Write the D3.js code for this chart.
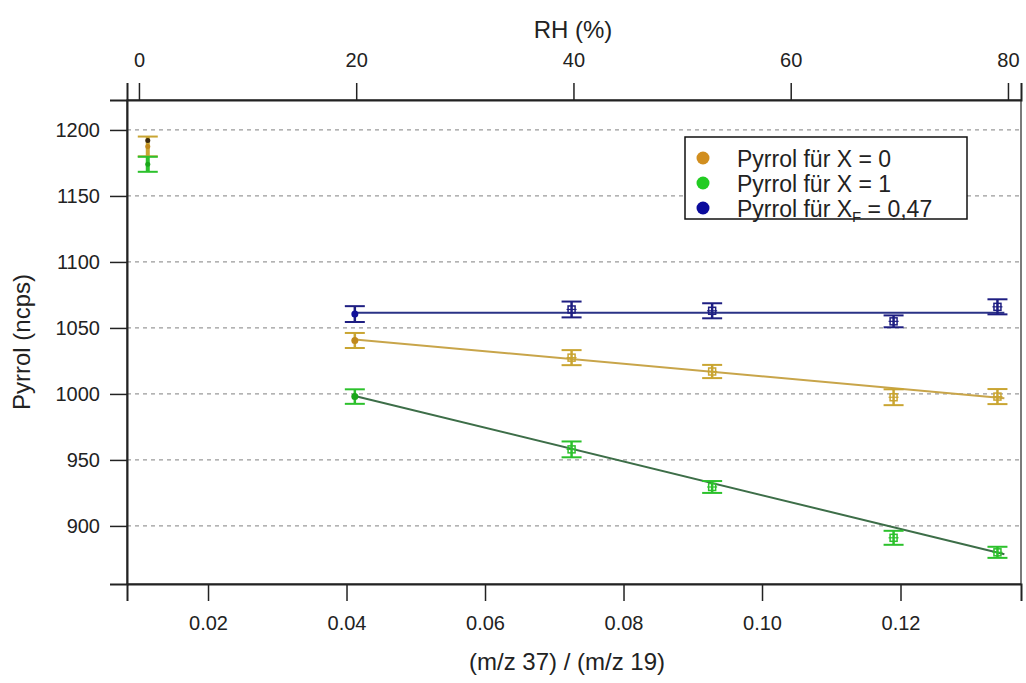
<!DOCTYPE html>
<html>
<head>
<meta charset="utf-8">
<script src="https://cdn.jsdelivr.net/npm/d3@7"></script>
<style>
  html, body { margin: 0; padding: 0; background: #fff; }
  svg { display: block; font-family: "Liberation Sans", Arial, sans-serif; }
</style>
</head>
<body>
<svg id="chart" width="1026" height="683"></svg>
<script>
// Measured ratio (m/z 37)/(m/z 19) for each humidity step
const ratio = [0.0113, 0.0412, 0.0725, 0.0928, 0.1190, 0.1340];

// Pyrrol signal (ncps) and uncertainties per series
const pyrrolX0 = [1187.5, 1040.5, 1027.5, 1017, 997.5, 998];
const pyrrolX0Err = [7.5, 5.7, 5.7, 5, 6, 5.7];
const pyrrolX1 = [1174, 998, 958, 929.5, 891, 880];
const pyrrolX1Err = [5.7, 5.5, 6, 4.5, 5.3, 4.2];
const pyrrolXF = [1192, 1060.5, 1064, 1063, 1055, 1066];
const pyrrolXFErr = [1, 6, 6, 5.7, 4.5, 5.7];

// Linear fits over the humidified points (start / end)
const fitRatio = [0.0412, 0.1350];
const fitX0 = [1041.3, 996.8];
const fitX1 = [998.5, 878.5];
const fitXF = [1061.5, 1061.5];

// Axis ticks
const bottomTicks = [0.02, 0.04, 0.06, 0.08, 0.10, 0.12];
const topTicks = [0, 20, 40, 60, 80];
const leftTicks = [900, 950, 1000, 1050, 1100, 1150, 1200];

const legendLabels = ["Pyrrol für X = 0", "Pyrrol für X = 1", "Pyrrol für X"];

const svg = d3.select("#chart");
const L = 127, R = 1021, T = 100, B = 584;

const x = d3.scaleLinear().domain([0.0083, 0.1374]).range([L, R]);
const xTop = d3.scaleLinear().domain([-1.1, 81.2]).range([L, R]);
const y = d3.scaleLinear().domain([856, 1222.7]).range([B, T]);

// dashed horizontal grid
svg.append("g").selectAll("line").data(leftTicks).join("line")
  .attr("x1", L).attr("x2", R)
  .attr("y1", d => y(d)).attr("y2", d => y(d))
  .attr("stroke", "#9a9a9a").attr("stroke-width", 1.2)
  .attr("stroke-dasharray", "4,4");

// frame
svg.append("rect").attr("x", L).attr("y", T).attr("width", R - L).attr("height", B - T)
  .attr("fill", "none").attr("stroke", "#222").attr("stroke-width", 1.2);

// axes
const tickFont = 20;
const gB = svg.append("g").attr("transform", `translate(0,${B})`)
  .call(d3.axisBottom(x).tickValues(bottomTicks).tickFormat(d3.format(".2f")).tickSize(17).tickPadding(15));
const gT = svg.append("g").attr("transform", `translate(0,${T})`)
  .call(d3.axisTop(xTop).tickValues(topTicks).tickFormat(d3.format("d")).tickSize(17).tickPadding(16));
const gL = svg.append("g").attr("transform", `translate(${L},0)`)
  .call(d3.axisLeft(y).tickValues(leftTicks).tickFormat(d3.format("d")).tickSize(17).tickPadding(10));
[gB, gT, gL].forEach(g => {
  g.select(".domain").attr("stroke", "#222").attr("stroke-width", 2);
  g.selectAll(".tick line").attr("stroke", "#222").attr("stroke-width", 1.5);
  g.selectAll(".tick text").attr("fill", "#222").style("font-size", tickFont + "px")
    .style("font-family", "'Liberation Sans', Arial, sans-serif");
});

// axis titles
svg.append("text").attr("x", 567).attr("y", 670).attr("text-anchor", "middle")
  .style("font-size", "24px").attr("fill", "#222").text("(m/z 37) / (m/z 19)");
svg.append("text").attr("x", 573).attr("y", 38).attr("text-anchor", "middle")
  .style("font-size", "24px").attr("fill", "#222").text("RH (%)");
svg.append("text").attr("transform", "translate(30,342) rotate(-90)").attr("text-anchor", "middle")
  .style("font-size", "24px").attr("fill", "#222").text("Pyrrol (ncps)");

const series = [
  { v: pyrrolX0, e: pyrrolX0Err, fit: fitX0, bar: "#c9a532", mark: "#c0891c", line: "#c8a54a", legend: "#d18e1f" },
  { v: pyrrolX1, e: pyrrolX1Err, fit: fitX1, bar: "#2cc12c", mark: "#1aa61a", line: "#3d6e48", legend: "#22cc22" },
  { v: pyrrolXF, e: pyrrolXFErr, fit: fitXF, bar: "#1e1e82", mark: "#10109a", line: "#2a3286", legend: "#0b0b9c" }
];

const lineGen = d3.line().x(d => x(d[0])).y(d => y(d[1]));

// fit lines
series.forEach(s => {
  svg.append("path").datum(fitRatio.map((r, i) => [r, s.fit[i]]))
    .attr("d", lineGen).attr("fill", "none").attr("stroke", s.line).attr("stroke-width", 2);
});

// error bars and markers
const cap = 10;
series.forEach((s, si) => {
  const g = svg.append("g");
  const pts = ratio.map((r, i) => ({ r, v: s.v[i], e: s.e[i], i }));
  pts.forEach(p => {
    const cx = x(p.r);
    const plain = si === 2 && p.i === 0;
    if (!plain) {
      g.append("line").attr("x1", cx).attr("x2", cx).attr("y1", y(p.v + p.e)).attr("y2", y(p.v - p.e))
        .attr("stroke", s.bar).attr("stroke-width", p.i === 0 ? 4 : 2.5);
      [p.v + p.e, p.v - p.e].forEach(yy => {
        g.append("line").attr("x1", cx - cap).attr("x2", cx + cap).attr("y1", y(yy)).attr("y2", y(yy))
          .attr("stroke", s.bar).attr("stroke-width", 2);
      });
    }
    if (p.i <= 1) {
      g.append("circle").attr("cx", cx).attr("cy", y(p.v)).attr("r", p.i === 0 ? 2.5 : 3.5)
        .attr("fill", plain ? "#3a2a10" : s.mark);
    } else {
      g.append("rect").attr("x", cx - 3.5).attr("y", y(p.v) - 3.5).attr("width", 7).attr("height", 7)
        .attr("fill", "none").attr("stroke", s.bar).attr("stroke-width", 1.5);
      g.append("line").attr("x1", cx - 5).attr("x2", cx + 5).attr("y1", y(p.v)).attr("y2", y(p.v))
        .attr("stroke", s.bar).attr("stroke-width", 1.2);
    }
  });
});

// legend
const lg = svg.append("g");
lg.append("rect").attr("x", 685).attr("y", 137).attr("width", 282).attr("height", 82)
  .attr("fill", "#fff").attr("stroke", "#111").attr("stroke-width", 1.5);
series.forEach((s, i) => {
  const cy = 158 + i * 25;
  lg.append("circle").attr("cx", 703).attr("cy", cy).attr("r", 6.5).attr("fill", s.legend);
  const t = lg.append("text").attr("x", 737).attr("y", cy + 8.5).style("font-size", "23px").attr("fill", "#222");
  if (i < 2) {
    t.text(legendLabels[i]);
  } else {
    t.append("tspan").text(legendLabels[i]);
    t.append("tspan").attr("dy", 5).style("font-size", "15px").text("F");
    t.append("tspan").attr("dy", -5).text(" = 0,47");
  }
});
</script>
</body>
</html>
